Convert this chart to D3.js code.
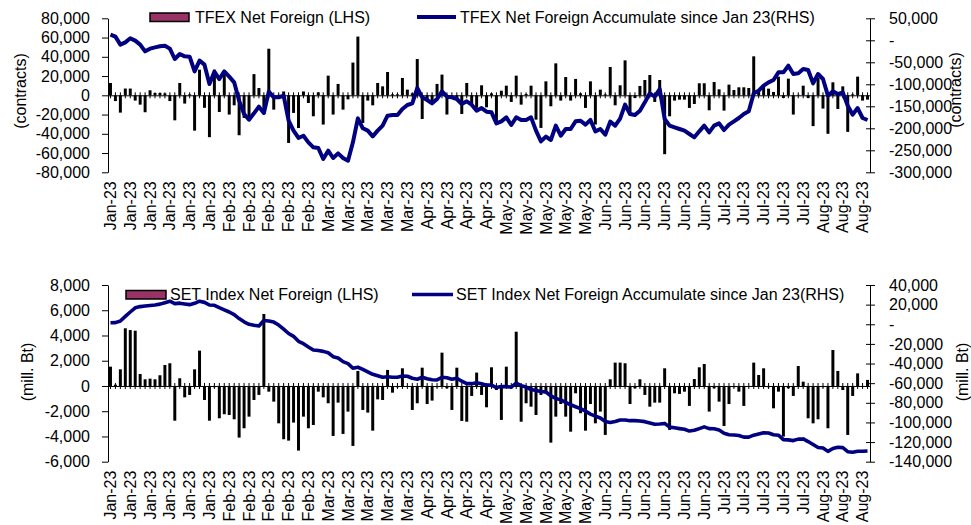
<!DOCTYPE html>
<html>
<head>
<meta charset="utf-8">
<script src="https://cdnjs.cloudflare.com/ajax/libs/d3/7.8.5/d3.min.js"></script>
<style>
  body { margin: 0; background: #fff; }
  svg { font-family: "Liberation Sans", Arial, sans-serif; }
</style>
</head>
<body>
<script>
'use strict';

// x tick labels, one every 4 trading days
const tickLabels = [
  'Jan-23','Jan-23','Jan-23','Jan-23','Jan-23','Jan-23',
  'Feb-23','Feb-23','Feb-23','Feb-23','Feb-23',
  'Mar-23','Mar-23','Mar-23','Mar-23','Mar-23',
  'Apr-23','Apr-23','Apr-23','Apr-23',
  'May-23','May-23','May-23','May-23','May-23',
  'Jun-23','Jun-23','Jun-23','Jun-23','Jun-23','Jun-23',
  'Jul-23','Jul-23','Jul-23','Jul-23','Jul-23',
  'Aug-23','Aug-23','Aug-23'
]

// TFEX daily net foreign (contracts)
const tfexNet = [
  12800, -6000, -18000, 7000, 7000, -5500, -9700, -17600, 5200, 2400,
  2400, 2000, -6000, -26000, 12800, -8600, 1000, -36700, 26600, -13000,
  -43500, 26600, -17300, 22000, -20000, -10400, -41500, -23500, -24000, 22000,
  7600, -19400, 48400, -14900, 500, 4000, -49500, -18300, -34000, 4000,
  -8000, -21800, 3100, -30400, 20400, -20000, 11800, -14900, -4200, 34000,
  61000, -28700, -5500, -10400, 12800, 9300, 24200, 1000, 1000, 18000,
  5900, 2000, 37700, -24600, -5500, -6900, 11800, 21500, -20000, -3000,
  -4000, -19400, 12800, -10000, -13000, 10400, -12500, 2000, -29800, 4800,
  10000, -6900, 20400, -9700, 1400, 10000, -25300, -33900, 14500, -11400,
  33200, -5500, 19000, -5500, 17000, 2000, -13100, 14500, -30400, 5900,
  1000, 29400, -10400, 10400, 36300, -20000, -2800, 9700, 15900, 21100,
  -6900, 15900, -61200, -21800, -5500, -4500, -4500, -13100, -9000, 12500,
  12500, -15600, 13800, 6200, -15900, 11100, 5500, 8300, 8300, 7600,
  40500, 4800, 9300, 6900, 3500, 19400, -2800, 17300, -20000, 500,
  10000, -2800, -32000, 18000, -13800, -40000, 13500, -14200, 9300, -38000,
  1000, 19400, -5500, -4500
]

// TFEX net foreign accumulated since Jan 23 (contracts)
const tfexAccum = [
  12800, 8300, -9900, -4600, 4500, -800, -9900, -25100, -19000, -16000,
  -13700, -12200, -19000, -42500, -31100, -36400, -37200, -70500, -46300, -55400,
  -99300, -71300, -88000, -70500, -82700, -95500, -137200, -167500, -180400, -166000,
  -150800, -165200, -116700, -129600, -129600, -125800, -182700, -205400, -222000, -216800,
  -231900, -243300, -244800, -269800, -250800, -267500, -256900, -267500, -273600, -231900,
  -177400, -200000, -205400, -218300, -205400, -194000, -171300, -169800, -169800, -156100,
  -147000, -143300, -108400, -129600, -135700, -143300, -133400, -116000, -128100, -129600,
  -133400, -144800, -138700, -146300, -159900, -153900, -162200, -163700, -188700, -184200,
  -175100, -192500, -175100, -181100, -181100, -175100, -205400, -229600, -219000, -226600,
  -194000, -216800, -201600, -201600, -184200, -182700, -191700, -181100, -206900, -201600,
  -214500, -184900, -194000, -178000, -146300, -167500, -169800, -159900, -141000, -120500,
  -128100, -110700, -178900, -194000, -197800, -201600, -205400, -213000, -220500, -206900,
  -194000, -209200, -194000, -188700, -203900, -191700, -184200, -176600, -167500, -161400,
  -120500, -114500, -103100, -95500, -90200, -72800, -72800, -57700, -76600, -75100,
  -65200, -67500, -97800, -76600, -88000, -125800, -116000, -122100, -118300, -148600,
  -169000, -153900, -176600, -181100
]

// SET index daily net foreign (mill. Bt)
const setNet = [
  1530, 100, 1320, 4570, 4430, 4380, 950, 530, 580, 530,
  850, 1660, 1800, -2750, 610, -900, -710, 1320, 2800, -1110,
  -2750, -100, -2560, -2240, -2300, -2640, -4090, -3350, -2430, -1110,
  -710, 5700, -450, -1240, -2960, -4220, -4330, -2900, -5120, -2430,
  -3350, -3090, -450, -900, -1370, -3960, -1320, -3800, -2030, -4750,
  1190, -1900, -2110, -3540, -1060, -1110, 1270, -530, -100, 1400,
  -50, -1900, -1370, 1450, -1430, -1160, -100, 2640, -185, -1900,
  1450, -2770, -2830, -790, 1060, -710, -1690, 1480, -320, -2690,
  1530, -185, 4300, -2830, -1370, -1640, -2300, -710, -580, -4490,
  -2430, -1430, -2430, -3620, -580, -2160, -3540, -1430, -2960, -2030,
  -3880, 530, 1850, 1850, 1800, -1430, -185, 530, -710, -1640,
  -1320, -1320, 1400, -3480, -580, -630, -450, -1580, 550, 1480,
  1740, -2030, -185, -1240, -3170, -1430, -100, -450, -1580, -50,
  1850, 870, 1400, -100, -1770, -450, -4010, -185, -790, 1580,
  340, -2560, -2960, -2640, -100, -3350, 2850, 1190, -320, -3880,
  -790, 1000, -80, 480
]

// SET index net foreign accumulated since Jan 23 (mill. Bt)
const setAccum = [
  1600, 1700, 3300, 8000, 12500, 16800, 18000, 18600, 19100, 19700,
  20500, 22000, 23500, 21000, 21500, 20700, 20000, 21300, 23500, 22300,
  19600, 19300, 16900, 14700, 12500, 9800, 5800, 2500, 0, -1000,
  -1800, 3800, 3400, 2200, -800, -5000, -9400, -12300, -17400, -19800,
  -23100, -26200, -26700, -27600, -29000, -33000, -34300, -38100, -40100, -44800,
  -43800, -46000, -48500, -51000, -52500, -54000, -53500, -54000, -54000, -52700,
  -53000, -55000, -56000, -54000, -55500, -56500, -56700, -54000, -54500, -56000,
  -55000, -58000, -60500, -60500, -59500, -60500, -62000, -62000, -64500, -63500,
  -63500, -64000, -60000, -62500, -64000, -66500, -67500, -68500, -69000, -73000,
  -75500, -77000, -79500, -82000, -84000, -86000, -88500, -91500, -93500, -95500,
  -99000, -100000, -99000, -97500, -97500, -98200, -98200, -98500, -99200, -100500,
  -101800, -101600, -101000, -104800, -105500, -106300, -107000, -108800, -108000, -106300,
  -104500, -106300, -106500, -107800, -111000, -112500, -112800, -113300, -115000, -115000,
  -113000, -111800, -110500, -110800, -112500, -113000, -117500, -117800, -118500, -117000,
  -116800, -119500, -122500, -125500, -126000, -129500, -126500, -125300, -125700, -129800,
  -130300, -129400, -129400, -129100
]

const m = {
  width: 971,
  height: 525,
  left: 108,
  right: 870,
  labelStep: 4
}

const locale = d3.formatLocale({decimal: '.', thousands: ',', grouping: [3], currency: ['', ''], minus: '-'})
const fmt = locale.format(',')

let svg = d3.select('body')
  .append('svg')
  .attr('width', m.width)
  .attr('height', m.height)

drawPanel({
  top: 18.3, bottom: 172.3,
  bars: tfexNet, line: tfexAccum,
  leftDomain: [-80000, 80000], leftStep: 20000,
  rightDomain: [-300000, 50000], rightStep: 50000,
  lineWidth: 4,
  barText: 'TFEX Net Foreign (LHS)',
  lineText: 'TFEX Net Foreign Accumulate since Jan 23(RHS)',
  legend: {rectX: 150, rectY: 13, rectW: 39, textX: 195, lineX: 417, lineX2: 456, textX2: 460, y: 17},
  title: '(contracts)', titleL: [20.5, 91], titleR: [955, 90]
})

drawPanel({
  top: 285, bottom: 461.7,
  bars: setNet, line: setAccum,
  leftDomain: [-6000, 8000], leftStep: 2000,
  rightDomain: [-140000, 40000], rightStep: 20000,
  lineWidth: 3.6,
  barText: 'SET Index Net Foreign (LHS)',
  lineText: 'SET Index Net Foreign Accumulate since Jan 23(RHS)',
  legend: {rectX: 126, rectY: 290.5, rectW: 40, textX: 170, lineX: 412, lineX2: 453, textX2: 456, y: 294.5},
  title: '(mill. Bt)', titleL: [27, 372], titleR: [962, 372]
})

function drawPanel(p) {
  let n = p.bars.length

  let x = d3.scaleBand()
    .domain(d3.range(n))
    .range([m.left, m.right])
    .paddingInner(0.4)
    .paddingOuter(0.2)

  let yL = d3.scaleLinear().domain(p.leftDomain).range([p.bottom, p.top])
  let yR = d3.scaleLinear().domain(p.rightDomain).range([p.bottom, p.top])

  // bars
  svg.append('g')
    .selectAll('rect')
    .data(p.bars)
    .enter().append('rect')
      .attr('x', (d, i) => x(i))
      .attr('width', x.bandwidth())
      .attr('y', (d) => Math.min(yL(d), yL(0)))
      .attr('height', (d) => Math.abs(yL(d) - yL(0)))
      .style('fill', '#000')

  // category axis along the zero line
  let zeroAxis = svg.append('g')
    .attr('transform', 'translate(0, ' + yL(0) + ')')
    .call(d3.axisBottom(x).tickSize(3).tickSizeOuter(0).tickFormat(''))
  zeroAxis.selectAll('.tick line').attr('y1', -3).attr('y2', 3)

  // rotated date labels under the plot
  let labelAxis = svg.append('g')
    .attr('transform', 'translate(0, ' + p.bottom + ')')
    .call(d3.axisBottom(x)
      .tickValues(d3.range(0, n, m.labelStep))
      .tickSize(0)
      .tickFormat((d) => tickLabels[d / m.labelStep]))
  labelAxis.select('.domain').remove()
  labelAxis.selectAll('text')
    .attr('transform', 'rotate(-90)')
    .attr('text-anchor', 'end')
    .attr('x', -9)
    .attr('y', 0)
    .attr('dy', '0.35em')
    .attr('font-size', 16)
    .attr('font-family', '"Liberation Sans", Arial, sans-serif')

  // left axis
  let leftAxis = svg.append('g')
    .attr('transform', 'translate(' + m.left + ', 0)')
    .call(d3.axisLeft(yL)
      .tickValues(d3.range(p.leftDomain[0], p.leftDomain[1] + 1, p.leftStep))
      .tickSize(6).tickSizeOuter(0).tickPadding(12)
      .tickFormat(fmt))
  leftAxis.selectAll('text')
    .attr('font-size', 16)
    .attr('font-family', '"Liberation Sans", Arial, sans-serif')

  // right axis
  let rightAxis = svg.append('g')
    .attr('transform', 'translate(' + m.right + ', 0)')
    .call(d3.axisRight(yR)
      .tickValues(d3.range(p.rightDomain[0], p.rightDomain[1] + 1, p.rightStep))
      .tickSize(5).tickSizeOuter(0).tickPadding(14)
      .tickFormat((d) => d === 0 ? '-' : fmt(d)))
  rightAxis.selectAll('.tick line').attr('x1', -4)
  rightAxis.selectAll('text')
    .attr('font-size', 16)
    .attr('font-family', '"Liberation Sans", Arial, sans-serif')

  // accumulated line
  let line = d3.line()
    .x((d, i) => x(i) + x.bandwidth() / 2)
    .y((d) => yR(d))

  svg.append('path')
    .datum(p.line)
    .attr('d', line)
    .style('fill', 'none')
    .style('stroke', '#000080')
    .style('stroke-width', p.lineWidth)
    .style('stroke-linejoin', 'round')

  // legend
  let lg = p.legend
  svg.append('rect')
    .attr('x', lg.rectX)
    .attr('y', lg.rectY)
    .attr('width', lg.rectW)
    .attr('height', 8.5)
    .style('fill', '#993366')
    .style('stroke', '#000')
    .style('stroke-width', 1.5)

  svg.append('text')
    .attr('x', lg.textX)
    .attr('y', lg.y)
    .attr('dy', '0.35em')
    .style('font-size', '16px')
    .text(p.barText)

  svg.append('line')
    .attr('x1', lg.lineX)
    .attr('x2', lg.lineX2)
    .attr('y1', lg.y)
    .attr('y2', lg.y)
    .style('stroke', '#000080')
    .style('stroke-width', p.lineWidth)

  svg.append('text')
    .attr('x', lg.textX2)
    .attr('y', lg.y)
    .attr('dy', '0.35em')
    .style('font-size', '16px')
    .text(p.lineText)

  // axis titles
  svg.append('text')
    .attr('transform', 'translate(' + p.titleL[0] + ', ' + p.titleL[1] + ')rotate(-90)')
    .attr('text-anchor', 'middle')
    .attr('dy', '0.35em')
    .style('font-size', '16px')
    .text(p.title)

  svg.append('text')
    .attr('transform', 'translate(' + p.titleR[0] + ', ' + p.titleR[1] + ')rotate(-90)')
    .attr('text-anchor', 'middle')
    .attr('dy', '0.35em')
    .style('font-size', '16px')
    .text(p.title)
}
</script>
</body>
</html>
